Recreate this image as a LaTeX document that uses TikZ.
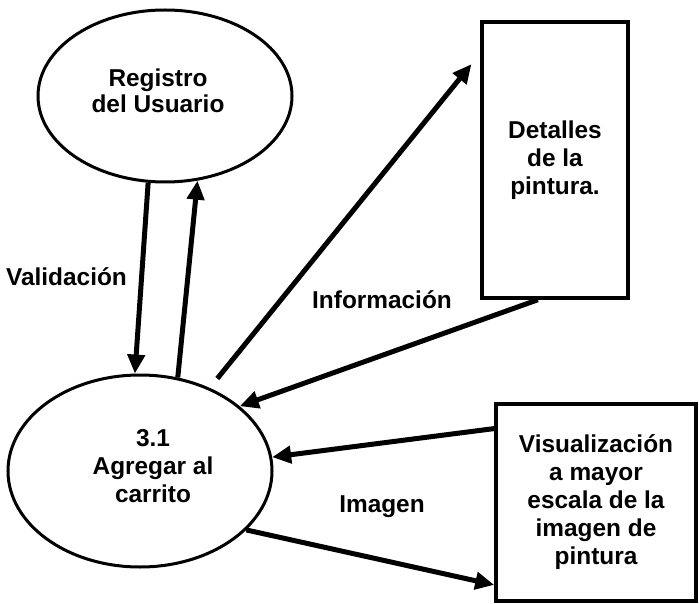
\documentclass[tikz,border=0pt]{standalone}
\usepackage{fontspec}
\setmainfont{Liberation Sans}
\usetikzlibrary{shapes.geometric,arrows.meta}
\begin{document}
\begin{tikzpicture}
[x=1pt,y=-1pt,
proc/.style={ellipse,draw,line width=3pt,inner sep=0pt},
store/.style={rectangle,draw,line width=3.5pt,inner sep=0pt,align=center,font=\bfseries\fontsize{24.4}{28}\selectfont},
flow/.style={line width=5pt,-{Triangle[length=19pt,width=17pt]}},
lbl/.style={align=center,font=\bfseries\fontsize{24.4}{28}\selectfont}]
\useasboundingbox (0,0) rectangle (699,604);
\node[proc,minimum width=254pt,minimum height=172pt] (reg) at (165,96) {};
\node[proc,minimum width=264pt,minimum height=192pt] (cart) at (140,471) {};
\node[lbl,font=\bfseries\fontsize{24.4}{26}\selectfont] (regtxt) at (158,91) {Registro\\del Usuario};
\node[lbl] (carttxt) at (153,466) {3.1\\Agregar al\\carrito};
\node[store,minimum width=146pt,minimum height=276pt] (det) at (555,160) {Detalles\\de la\\pintura.};
\node[store,minimum width=200pt,minimum height=197pt] (vis) at (596,502.5) {Visualizaci\'on\\a mayor\\escala de la\\imagen de\\pintura};
\draw[flow] (reg.-101) -- (cart.93);
\draw[flow] (cart.68) -- (reg.-69);
\draw[flow,shorten <=12pt,shorten >=14pt] (cart.50) -- (det.125.3);
\draw[flow] (det.-97.4) -- (cart.33.4);
\draw[flow] (vis.144.8) -- (cart.6.2);
\draw[flow] (cart.-29.7) -- (vis.-141.2);
\node[lbl] (val) at (66.5,277) {Validaci\'on};
\node[lbl] (inf) at (382,300) {Informaci\'on};
\node[lbl] (img) at (382,507) {Imagen};
\end{tikzpicture}
\end{document}
